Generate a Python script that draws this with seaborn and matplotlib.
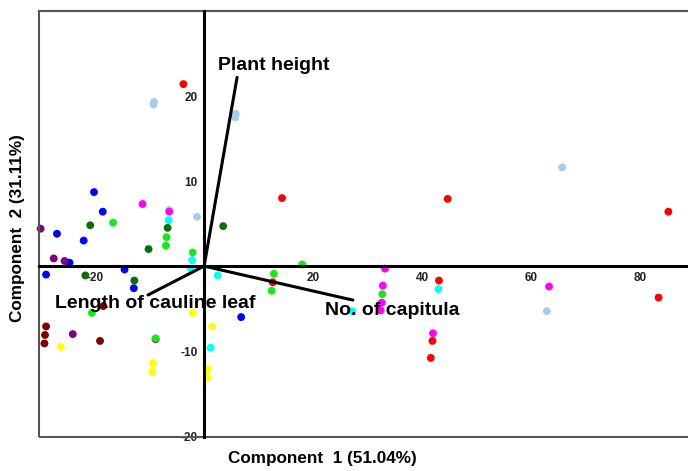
import matplotlib
matplotlib.use("Agg")
import matplotlib.pyplot as plt
from matplotlib.patches import Rectangle
import seaborn as sns
import pandas as pd

# ---- data ----
red_x = [-3.8, 14.3, 44.7, 85.2, 12.6, 43.1, 41.9, 41.6, 83.4]
red_y = [21.4, 8.0, 7.9, 6.4, -1.9, -1.7, -8.8, -10.8, -3.7]
lightblue_x = [-9.3, -9.2, 5.7, 5.8, -6.4, -1.3, 65.7, 62.9]
lightblue_y = [19.0, 19.3, 17.5, 17.9, 6.6, 5.8, 11.6, -5.3]
blue_x = [-20.2, -18.6, -27.0, -22.1, -24.7, -29.0, -14.6, -12.9, 6.8]
blue_y = [8.7, 6.4, 3.8, 3.0, 0.4, -1.0, -0.4, -2.6, -6.0]
magenta_x = [-11.3, -6.4, 33.2, 32.8, 32.6, 32.4, 42.0, 63.3]
magenta_y = [7.3, 6.4, -0.3, -2.3, -4.3, -5.2, -7.9, -2.4]
cyan_x = [-6.5, -2.2, -2.4, 2.5, 27.2, 43.0, 1.2]
cyan_y = [5.4, 0.7, -0.3, -1.1, -5.3, -2.7, -9.6]
darkgreen_x = [-6.7, -10.2, -20.9, 3.5, -21.8, -12.8]
darkgreen_y = [4.5, 2.0, 4.8, 4.7, -1.1, -1.7]
purple_x = [-30.0, -27.6, -25.6, -24.1, -8.9]
purple_y = [4.4, 0.9, 0.6, -8.0, -8.6]
green_x = [-16.7, -6.9, -7.0, -2.1, 12.8, 12.4, 18.0, 32.7, -20.6, -8.9]
green_y = [5.1, 3.4, 2.4, 1.6, -0.9, -2.9, 0.2, -3.3, -5.5, -8.5]
darkred_x = [-29.0, -29.2, -29.3, -19.1, -18.5]
darkred_y = [-7.1, -8.1, -9.1, -8.8, -4.7]
yellow_x = [-2.1, 1.5, -26.3, -9.4, -9.5, 0.7, 0.6]
yellow_y = [-5.5, -7.1, -9.5, -11.4, -12.4, -12.1, -13.1]

# loadings (vector tips) and their labels
vec_names = ["Plant height", "Length of cauline leaf", "No. of capitula"]
vec_x = [6.05, -10.3, 27.3]
vec_y = [22.2, -3.4, -4.0]
lab_x = [2.6, -27.3, 22.2]
lab_y = [23.6, -4.35, -5.2]

xticks = [-20, 20, 40, 60, 80]
yticks = [-20, -10, 10, 20]
xlabel = "Component  1 (51.04%)"
ylabel = "Component  2 (31.11%)"

groups = [
    ("red", red_x, red_y, "#FF0000"),
    ("lightblue", lightblue_x, lightblue_y, "#A9CAEE"),
    ("blue", blue_x, blue_y, "#0000FF"),
    ("magenta", magenta_x, magenta_y, "#FF00FF"),
    ("cyan", cyan_x, cyan_y, "#00FFFF"),
    ("darkgreen", darkgreen_x, darkgreen_y, "#0B6E0B"),
    ("purple", purple_x, purple_y, "#800080"),
    ("green", green_x, green_y, "#1BE61B"),
    ("darkred", darkred_x, darkred_y, "#800000"),
    ("yellow", yellow_x, yellow_y, "#FFFF00"),
]
rows = []
for name, xs, ys, _ in groups:
    for a, b in zip(xs, ys):
        rows.append({"PC1": a, "PC2": b, "group": name})
df = pd.DataFrame(rows)
palette = {name: c for name, _, _, c in groups}

sns.set_theme(style="white")
plt.rcParams["font.family"] = ["Liberation Sans", "DejaVu Sans"]

fig = plt.figure(figsize=(6.88, 4.71), dpi=100)
ax = fig.add_axes([39 / 688, 1 - 437 / 471, 1 - 39 / 688, (437 - 11) / 471])

sns.scatterplot(data=df, x="PC1", y="PC2", hue="group", palette=palette,
                s=32, linewidth=0, legend=False, ax=ax, zorder=2, clip_on=False)

ax.set_xlim(-30.3, 88.8)
ax.set_ylim(-20.1, 30.0)

# central axes through origin
for side in ["left", "bottom"]:
    ax.spines[side].set_position(("data", 0))
    ax.spines[side].set_linewidth(2.2)
    ax.spines[side].set_color("black")
    ax.spines[side].set_zorder(3)
ax.spines["right"].set_visible(False)
ax.spines["top"].set_linewidth(1.5)
ax.spines["top"].set_color("#555555")
ax.add_patch(Rectangle((0, 0), 1.2, 1, transform=ax.transAxes, fill=False,
                       edgecolor="#555555", linewidth=1.5, clip_on=False, zorder=3))

ax.set_xticks(xticks)
ax.set_yticks(yticks)
ax.set_xticklabels([str(t) for t in xticks])
ax.set_yticklabels([str(t) for t in yticks])
ax.tick_params(axis="both", direction="out", length=3, width=1, color="#555555",
               labelsize=8.5, labelcolor="#222222", pad=1.5)
for lab in ax.get_xticklabels() + ax.get_yticklabels():
    lab.set_fontweight("bold")
ax.set_xlabel("")
ax.set_ylabel("")

# loading vectors
for vx, vy, name, tx, ty in zip(vec_x, vec_y, vec_names, lab_x, lab_y):
    ax.plot([0, vx], [0, vy], color="black", linewidth=2.2, zorder=4)
    ax.text(tx, ty, name, fontsize=14, fontweight="bold", color="black",
            ha="left", va="center", zorder=5)

fig.text(322 / 688, 1 - 458 / 471, xlabel, ha="center", va="center",
         fontsize=12.3, fontweight="bold", color="black")
fig.text(18 / 688, 1 - 228 / 471, ylabel, ha="center", va="center",
         rotation=90, fontsize=12.3, fontweight="bold", color="black")

fig.savefig("out.png", dpi=100)
